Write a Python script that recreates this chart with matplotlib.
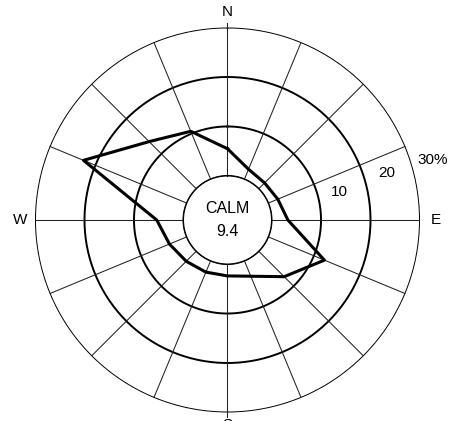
# -*- coding: utf-8 -*-

import numpy as np
import matplotlib.pyplot as plt

# Données de la rose des vents (fréquence en %)
directions = ['N', 'NNE', 'NE', 'ENE', 'E', 'ESE', 'SE', 'SSE',
              'S', 'SSW', 'SW', 'WSW', 'W', 'WNW', 'NW', 'NNW']
frequences = [5.5, 2.2, 1.7, 2.1, 3.3, 12.3, 7.3, 3.4,
              2.4, 2.5, 2.9, 3.8, 5.4, 22.6, 13.5, 10.5]
calme = 9.4
cercles = [0, 10, 20, 30]
etiquettes_cercles = ['10', '20', '30%']
points_cardinaux = ['N', 'E', 'S', 'W']


def dessiner_rose(ax):
    """
    Trace la grille (cercles + rayons) puis le polygone des fréquences.
    """
    ax.set_theta_zero_location('N')
    ax.set_theta_direction(-1)
    ax.set_ylim(0, 30)
    ax.set_rorigin(-8.9)
    ax.grid(False)
    ax.set_xticks([])
    ax.set_yticks([])
    ax.spines['polar'].set_visible(False)

    # cercles concentriques (0 = cercle CALM)
    t = np.linspace(0, 2*np.pi, 400)
    for r in cercles:
        ax.plot(t, np.full_like(t, r), color='black', lw=1.4)

    # rayons des 16 directions
    angles = np.deg2rad(np.arange(len(directions)) * 360 / len(directions))
    for a in angles:
        ax.plot([a, a], [0, 30], color='#222222', lw=0.75)
    # petites graduations N et S qui dépassent du cercle extérieur
    ax.plot([0, 0], [29, 31], color='#222222', lw=0.75, clip_on=False)
    ax.plot([np.pi, np.pi], [29, 31], color='#222222', lw=0.75, clip_on=False)

    # polygone des fréquences
    a_ferme = np.append(angles, angles[0])
    f_ferme = np.append(frequences, frequences[0])
    ax.plot(a_ferme, f_ferme, color='black', lw=2.2, zorder=5)

    # textes
    for i, nom in enumerate(points_cardinaux):
        a = np.deg2rad(90 * i)
        r = 33.1 if nom != 'S' else 32.6
        ax.text(a, r, nom, ha='center', va='center', fontsize=11,
                family='Liberation Sans', clip_on=False)
    pos = [(np.deg2rad(75.8), 14.4), (np.deg2rad(73.6), 24.6),
           (np.deg2rad(73.7), 34.4)]
    for (a, r), txt in zip(pos, etiquettes_cercles):
        ax.text(a, r, txt, ha='center', va='center', fontsize=11,
                family='Liberation Sans', clip_on=False)
    ax.text(0, -8.9, 'CALM\n' + str(calme), ha='center', va='center',
            fontsize=11.5, linespacing=1.7, family='Liberation Sans')


if __name__ == '__main__':
    fig = plt.figure(figsize=(4.54, 4.21), dpi=100)
    ax = fig.add_axes([0.0771, 0.0202, 0.848, 0.9145], projection='polar')
    dessiner_rose(ax)
    fig.savefig('out.png', dpi=100)
